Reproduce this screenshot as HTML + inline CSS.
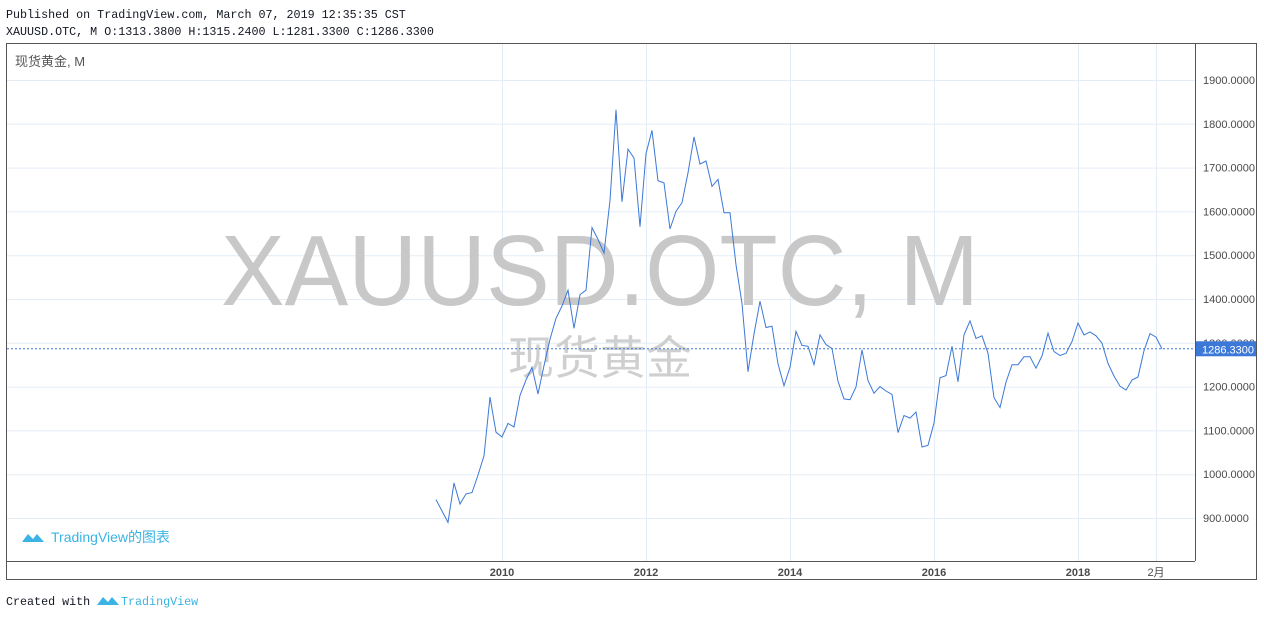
<!DOCTYPE html>
<html><head><meta charset="utf-8"><style>
html,body{margin:0;padding:0;background:#fff;width:1264px;height:617px;overflow:hidden}
svg{display:block}
.mono{font-family:"Liberation Mono","Noto Sans CJK SC",monospace;font-size:11.7px;fill:#131722}
.ax{font-family:"Liberation Sans",sans-serif;font-size:11px;fill:#4a4a4a}
</style></head><body>
<svg id="chart" width="1264" height="617" xmlns="http://www.w3.org/2000/svg">
<text class="mono" x="6" y="18">Published on TradingView.com, March 07, 2019 12:35:35 CST</text>
<text class="mono" x="6" y="35">XAUUSD.OTC, M O:1313.3800 H:1315.2400 L:1281.3300 C:1286.3300</text>
<rect x="6.5" y="43.5" width="1250" height="536" fill="#fff" stroke="#555"/>
<g id="grid"></g>
<text x="600" y="305" text-anchor="middle" textLength="758" lengthAdjust="spacingAndGlyphs" font-family="Liberation Sans,sans-serif" font-size="100" fill="#c8c8c8">XAUUSD.OTC, M</text>
<text x="600" y="374" text-anchor="middle" font-family="Liberation Sans,Noto Sans CJK SC,sans-serif" font-size="46" fill="#cfcfcf">现货黄金</text>
<text x="15" y="66" font-family="Liberation Sans,Noto Sans CJK SC,sans-serif" font-size="13" fill="#555">现货黄金, M</text>
<g id="series"></g>
<line x1="1195.5" y1="44" x2="1195.5" y2="561" stroke="#555"/>
<line x1="7" y1="561.5" x2="1195" y2="561.5" stroke="#555"/>
<g id="yaxis"></g>
<g id="xaxis"></g>
<g>
<path d="M22 542 l6 -8 l5 5 l4 -5 l7 8 z" fill="#3bb3e4"/>
<text x="51" y="542" font-family="Liberation Sans,Noto Sans CJK SC,sans-serif" font-size="14" fill="#3bb3e4">TradingView的图表</text>
</g>
<text class="mono" x="6" y="605">Created with</text>
<path d="M97 605 l6 -8 l5 5 l4 -5 l7 8 z" fill="#3bb3e4"/>
<text class="mono" x="121" y="605" fill="#3bb3e4" style="fill:#3bb3e4">TradingView</text>
</svg>
<script>
const startYear=2009, startMonth=1; // Feb 2009 (0-based month)
const closes=[942,916,890,980,932,955,958,998,1042,1176,1096,
1085,1116,1108,1180,1215,1244,1183,1248,1308,1356,1384,1420,
1333,1410,1420,1563,1536,1505,1625,1832,1622,1742,1722,1565,
1732,1785,1670,1665,1560,1600,1620,1688,1770,1708,1715,1657,
1673,1597,1597,1478,1390,1234,1320,1395,1335,1338,1252,1202,
1244,1326,1294,1292,1250,1318,1296,1287,1212,1172,1170,1199,
1284,1214,1185,1200,1190,1182,1095,1134,1128,1142,1062,1066,
1117,1220,1225,1292,1211,1318,1350,1310,1316,1276,1175,1152,
1210,1250,1250,1268,1268,1242,1270,1322,1280,1271,1276,1303,
1345,1318,1325,1316,1299,1253,1224,1201,1192,1215,1222,1282,
1321,1313,1286];
const lastPrice=1286.33;
const yTicks=[900,1000,1100,1200,1300,1400,1500,1600,1700,1800,1900];
const xTickYears=[2010,2012,2014,2016,2018];
const xTickLabels=["2010","2012","2014","2016","2018"];
const NS="http://www.w3.org/2000/svg";
const yS=p=>518-(p-900)*0.438;
const xS=(y,m)=>430+((y-2009)*12+m)*6;
function mk(t,a,parent){const e=document.createElementNS(NS,t);for(const k in a)e.setAttribute(k,a[k]);parent.appendChild(e);return e;}
const grid=document.getElementById('grid'),ya=document.getElementById('yaxis'),xa=document.getElementById('xaxis'),se=document.getElementById('series');
yTicks.forEach(v=>{
 const l=mk('line',{x1:7,x2:1195,y1:yS(v)+.5,y2:yS(v)+.5,stroke:'#e4edf6'},grid);
 
 
 const t=mk('text',{x:1203,y:yS(v)+4,class:'ax'},ya);t.textContent=v.toFixed(4);
 
 
});
xTickYears.forEach((yr,i)=>{
 const x=xS(yr,0);
 const l=mk('line',{x1:x+.5,x2:x+.5,y1:44,y2:561,stroke:'#e4edf6'},grid);
 
 
 const t=mk('text',{x:x,y:576,'text-anchor':'middle',class:'ax','font-weight':'bold'},xa);t.textContent=xTickLabels[i];
 
 
});
{const x=xS(2019,1);
 const l=mk('line',{x1:x+.5,x2:x+.5,y1:44,y2:561,stroke:'#e4edf6'},grid);
 
 
 const t=mk('text',{x:x,y:576,'text-anchor':'middle',class:'ax',style:'font-family:Liberation Sans,Noto Sans CJK SC,sans-serif'},xa);t.textContent='2月';
 
 }
const pts=closes.map((c,i)=>{const m=startMonth+i;return xS(startYear+Math.floor(m/12),m%12).toFixed(1)+','+yS(c).toFixed(1);});
const pl=mk('polyline',{points:pts.join(' '),fill:'none',stroke:'#3c78d8','stroke-width':1},se);


const ly=yS(lastPrice);
const dl=mk('line',{x1:7,x2:1195,y1:ly,y2:ly,stroke:'#3c78d8','stroke-dasharray':'2,2'},se);


const r=mk('rect',{x:1196,y:ly-7.5,width:60,height:15,fill:'#3c78d8'},ya);


const lt=mk('text',{x:1202,y:ly+4.5,class:'ax',style:'fill:#fff'},ya);lt.textContent=lastPrice.toFixed(4);


</script>
</body></html>
